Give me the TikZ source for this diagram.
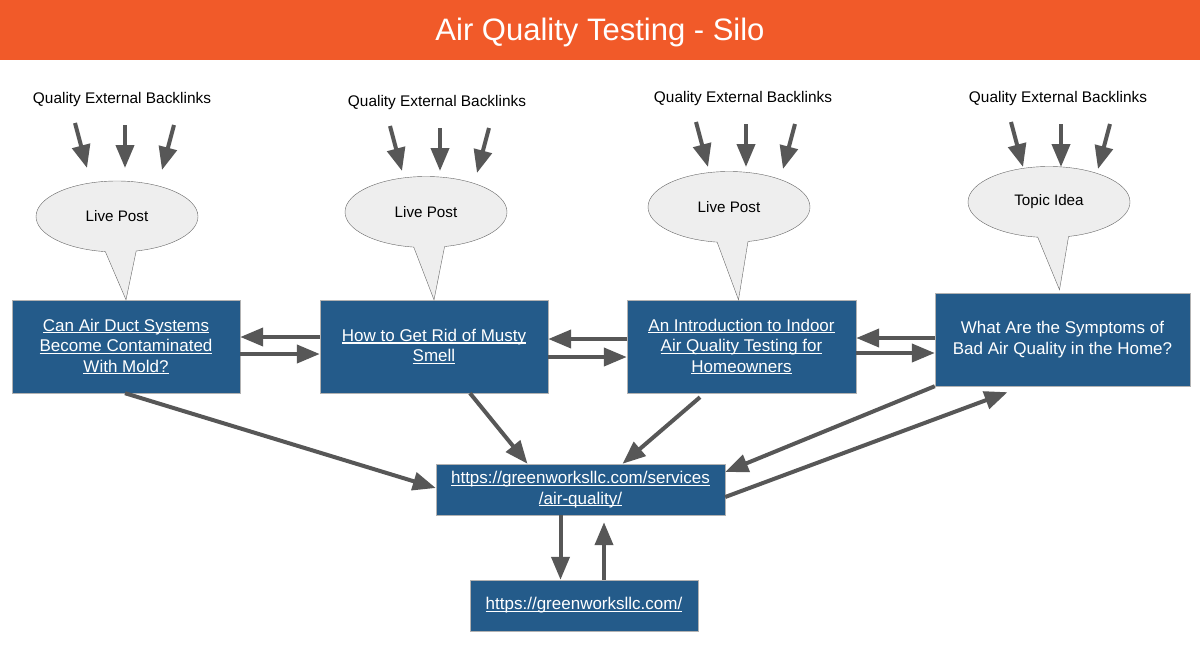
\documentclass[tikz,border=0pt]{standalone}
\usepackage{fontspec}
\setmainfont{Liberation Sans}
\usetikzlibrary{arrows.meta,shapes.callouts}
\definecolor{titleorange}{RGB}{241,90,41}
\definecolor{postblue}{RGB}{36,91,138}
\definecolor{linkgray}{RGB}{87,87,87}
\definecolor{bubblegray}{RGB}{238,238,238}
\tikzset{
  post/.style={draw=gray!60, fill=postblue, text=white, align=center, inner sep=0pt,
    font=\fontsize{17}{20.5}\selectfont},
  bubble/.style={ellipse callout, draw=gray!80!black, fill=bubblegray, inner sep=0pt,
    minimum width=162pt, minimum height=71pt, callout pointer arc=22,
    font=\fontsize{15.2}{17}\selectfont},
  backlinks/.style={font=\fontsize{15.4}{17}\selectfont},
  link/.style={draw=linkgray, line width=4pt, -{Triangle[length=23pt,width=18pt]}},
}
\newsavebox\lnkbox
\newcommand{\lnk}[1]{\sbox\lnkbox{#1}\rlap{\rule[-2.3pt]{\wd\lnkbox}{1.1pt}}\usebox\lnkbox}
\begin{document}
\begin{tikzpicture}[x=1pt,y=-1pt]
\useasboundingbox (0,0) rectangle (1200,651);
% title bar
\fill[titleorange] (0,0) rectangle (1200,60);
\node[text=white, font=\fontsize{31}{34}\selectfont] (title) at (600,32) {Air Quality Testing - Silo};
% posts
\node[post, minimum width=228pt, minimum height=93pt] (box1) at (126,346.5)
  {\lnk{Can Air Duct Systems}\\\lnk{Become Contaminated}\\\lnk{With Mold?}};
\node[post, minimum width=228pt, minimum height=93pt] (box2) at (434,346.5)
  {\lnk{How to Get Rid of Musty}\\\lnk{Smell}};
\node[post, minimum width=229pt, minimum height=93pt] (box3) at (741.5,346.5)
  {\lnk{An Introduction to Indoor}\\\lnk{Air Quality Testing for}\\\lnk{Homeowners}};
\node[post, minimum width=255pt, minimum height=93pt] (box4) at (1062.5,339.5)
  {What Are the Symptoms of\\Bad Air Quality in the Home?};
\node[post, minimum width=289pt, minimum height=51pt] (silo) at (580.5,489.5)
  {\lnk{https://greenworksllc.com/services}\\\lnk{/air-quality/}};
\node[post, minimum width=228pt, minimum height=51pt] (home) at (584,605.5)
  {\lnk{https://greenworksllc.com/}};
% bubbles
\node[bubble, callout absolute pointer={(box1.north)}] (bub1) at (117,216.5) {Live Post};
\node[bubble, callout absolute pointer={(box2.north)}] (bub2) at (426,212) {Live Post};
\node[bubble, callout absolute pointer={([xshift=-3pt]box3.north)}] (bub3) at (729,207) {Live Post};
\node[bubble, callout absolute pointer={([xshift=-3pt,yshift=3pt]box4.north)}] (bub4) at (1049,202) {Topic Idea};
% backlinks
\node[backlinks] (ql1) at (122,100) {Quality External Backlinks};
\node[backlinks] (ql2) at (437,103) {Quality External Backlinks};
\node[backlinks] (ql3) at (743,99) {Quality External Backlinks};
\node[backlinks] (ql4) at (1058,99) {Quality External Backlinks};
\foreach \i in {1,...,4} {
  \draw[link] ([xshift=-47pt,yshift=-23pt]ql\i.center) -- ([xshift=-35pt,yshift=-68pt]ql\i.center);
  \draw[link] ([xshift=3pt,yshift=-25pt]ql\i.center) -- ([xshift=3pt,yshift=-68pt]ql\i.center);
  \draw[link] ([xshift=52pt,yshift=-25pt]ql\i.center) -- ([xshift=40pt,yshift=-70pt]ql\i.center);
}
% links between posts
\draw[link] ([yshift=9.5pt]box2.west) -- ([yshift=9.5pt]box1.east);
\draw[link] ([yshift=-7.5pt]box1.east) -- ([yshift=-7.5pt]box2.west);
\draw[link] ([yshift=7.5pt]box3.west) -- ([yshift=7.5pt]box2.east);
\draw[link] ([yshift=-10.5pt]box2.east) -- ([yshift=-10.5pt]box3.west);
\draw[link] ([yshift=1.5pt]box4.west) -- ([yshift=8.5pt]box3.east);
\draw[link] ([yshift=-6.5pt]box3.east) -- ([yshift=-13.5pt]box4.west);
% links to the silo page
\draw[link] ([xshift=-1pt]box1.south) -- ([yshift=1.5pt]silo.west);
\draw[link] ([xshift=36pt]box2.south) -- ([xshift=-53pt]silo.north);
\draw[link] ([xshift=-41.5pt,yshift=-4pt]box3.south) -- ([xshift=42pt]silo.north);
\draw[link] (box4.south west) -- ([yshift=17.5pt]silo.east);
\draw[link] ([yshift=-7.5pt]silo.east) -- ([xshift=-55pt,yshift=-6pt]box4.south);
% silo and home page
\draw[link] ([xshift=-20pt]silo.south) -- ([xshift=-20pt]silo.south |- home.north);
\draw[link] ([xshift=20pt]home.north) -- ([xshift=20pt,yshift=-7pt]home.north |- silo.south);
\end{tikzpicture}
\end{document}
